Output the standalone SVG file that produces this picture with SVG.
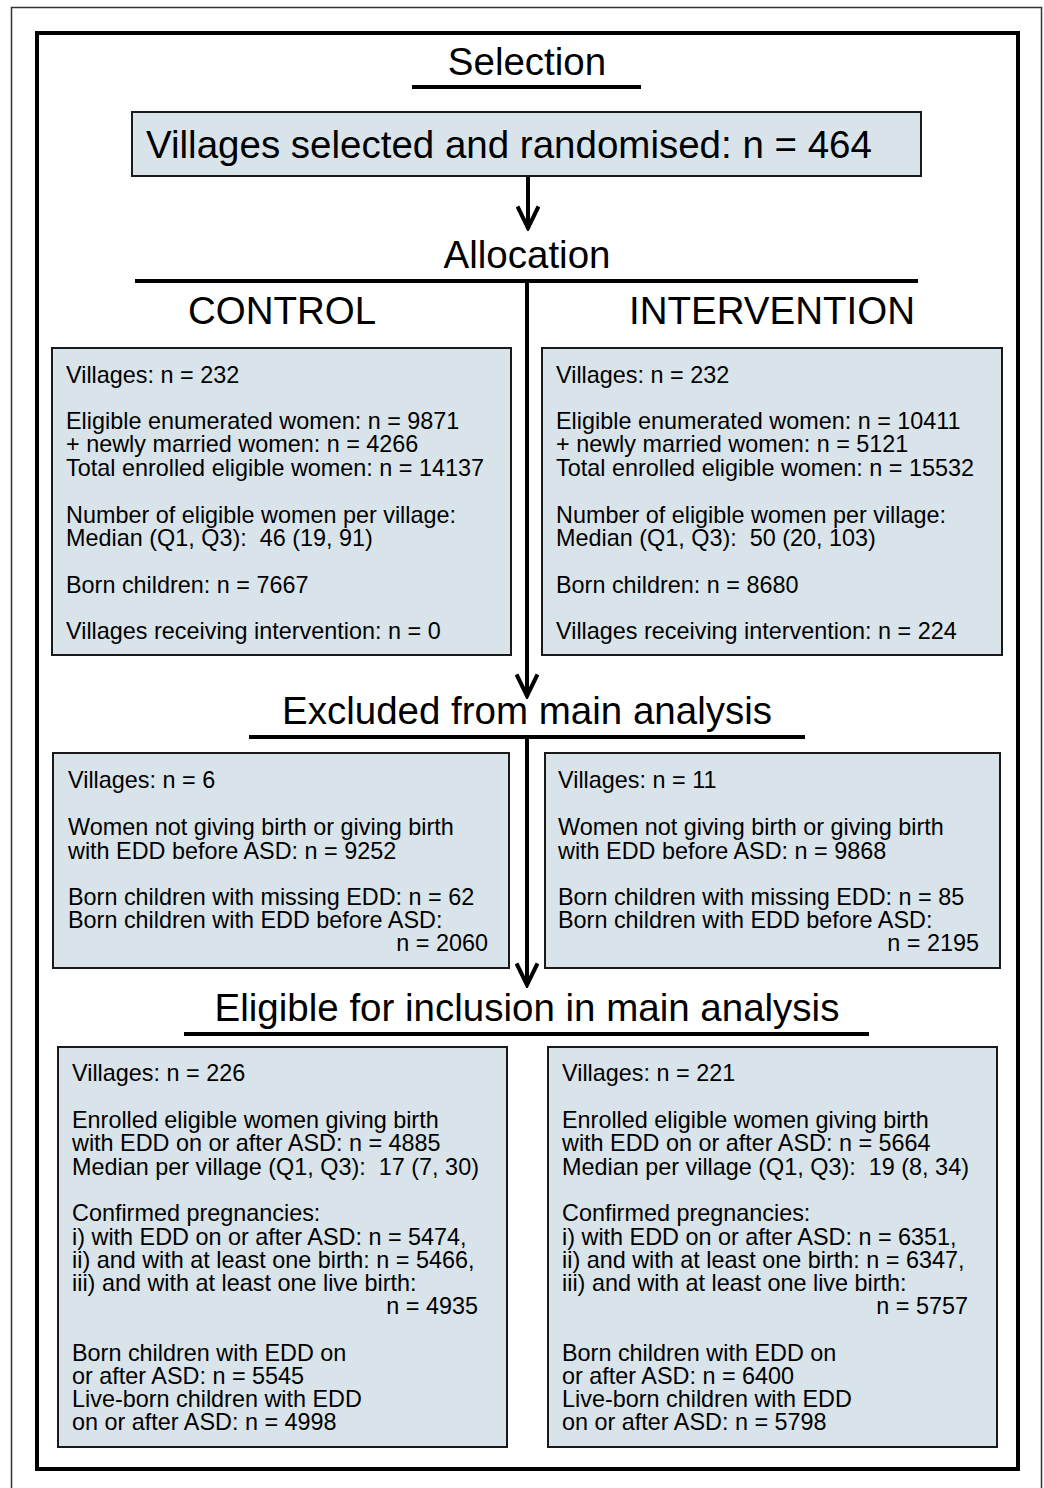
<svg xmlns="http://www.w3.org/2000/svg" width="1044" height="1488" viewBox="0 0 1044 1488">
<style>
text{font-family:"Liberation Sans",Arial,sans-serif;fill:#000}
.h{font-size:38.5px;text-anchor:middle}
.t{font-size:23.4px}
.r{text-anchor:end}
.box{fill:#d9e4ea;stroke:#1a1a1a;stroke-width:2}
.rule{stroke:#000;stroke-width:4;fill:none}
.con{stroke:#000;stroke-width:4;fill:none}
</style>
<defs>
<marker id="ah" viewBox="0 0 26 24" markerWidth="26" markerHeight="24" refX="24" refY="12" orient="auto" markerUnits="userSpaceOnUse">
<path d="M1.5 1.5 L23 12 L1.5 22.5" fill="none" stroke="#000" stroke-width="4"/>
</marker>
</defs>
<rect width="1044" height="1488" fill="#fff"/>
<path d="M11.5 1488 V7.5 H1041.5 V1488" fill="none" stroke="#333" stroke-width="1.5"/>
<rect x="37" y="33" width="981" height="1436" fill="none" stroke="#000" stroke-width="4"/>

<g id="headings">
<text class="h" x="527" y="75">Selection</text>
<line class="rule" x1="412" y1="87" x2="641" y2="87"/>
<text class="h" x="527" y="268">Allocation</text>
<line class="rule" x1="135" y1="281" x2="918" y2="281"/>
<text class="h" x="282" y="324">CONTROL</text>
<text class="h" x="772" y="324">INTERVENTION</text>
<text class="h" x="527" y="724">Excluded from main analysis</text>
<line class="rule" x1="249" y1="737" x2="805" y2="737"/>
<text class="h" x="527" y="1021">Eligible for inclusion in main analysis</text>
<line class="rule" x1="184" y1="1034" x2="869" y2="1034"/>
</g>

<g id="connectors">
<line class="con" x1="528" y1="176" x2="528" y2="229" marker-end="url(#ah)"/>
<line class="con" x1="527" y1="281" x2="527" y2="697" marker-end="url(#ah)"/>
<line class="con" x1="527" y1="737" x2="527" y2="986" marker-end="url(#ah)"/>
</g>

<g id="selected">
<rect class="box" x="132" y="112" width="789" height="64"/>
<text x="146" y="158" style="font-size:38.5px">Villages selected and randomised: n = 464</text>
</g>

<g id="control-allocated">
<rect class="box" x="52" y="348" width="459" height="307"/>
<text class="t" x="66" y="383">Villages: n = 232</text>
<text class="t" x="66" y="429">Eligible enumerated women: n = 9871</text>
<text class="t" x="66" y="452">+ newly married women: n = 4266</text>
<text class="t" x="66" y="476">Total enrolled eligible women: n = 14137</text>
<text class="t" x="66" y="523">Number of eligible women per village:</text>
<text class="t" x="66" y="546" xml:space="preserve">Median (Q1, Q3):  46 (19, 91)</text>
<text class="t" x="66" y="593">Born children: n = 7667</text>
<text class="t" x="66" y="639">Villages receiving intervention: n = 0</text>
</g>

<g id="intervention-allocated">
<rect class="box" x="542" y="348" width="460" height="307"/>
<text class="t" x="556" y="383">Villages: n = 232</text>
<text class="t" x="556" y="429">Eligible enumerated women: n = 10411</text>
<text class="t" x="556" y="452">+ newly married women: n = 5121</text>
<text class="t" x="556" y="476">Total enrolled eligible women: n = 15532</text>
<text class="t" x="556" y="523">Number of eligible women per village:</text>
<text class="t" x="556" y="546" xml:space="preserve">Median (Q1, Q3):  50 (20, 103)</text>
<text class="t" x="556" y="593">Born children: n = 8680</text>
<text class="t" x="556" y="639">Villages receiving intervention: n = 224</text>
</g>

<g id="control-excluded">
<rect class="box" x="53" y="753" width="456" height="215"/>
<text class="t" x="68" y="788">Villages: n = 6</text>
<text class="t" x="68" y="835">Women not giving birth or giving birth</text>
<text class="t" x="68" y="859">with EDD before ASD: n = 9252</text>
<text class="t" x="68" y="905">Born children with missing EDD: n = 62</text>
<text class="t" x="68" y="928">Born children with EDD before ASD:</text>
<text class="t r" x="488" y="951">n = 2060</text>
</g>

<g id="intervention-excluded">
<rect class="box" x="545" y="753" width="455" height="215"/>
<text class="t" x="558" y="788">Villages: n = 11</text>
<text class="t" x="558" y="835">Women not giving birth or giving birth</text>
<text class="t" x="558" y="859">with EDD before ASD: n = 9868</text>
<text class="t" x="558" y="905">Born children with missing EDD: n = 85</text>
<text class="t" x="558" y="928">Born children with EDD before ASD:</text>
<text class="t r" x="979" y="951">n = 2195</text>
</g>

<g id="control-eligible">
<rect class="box" x="58" y="1047" width="449" height="400"/>
<text class="t" x="72" y="1081">Villages: n = 226</text>
<text class="t" x="72" y="1128">Enrolled eligible women giving birth</text>
<text class="t" x="72" y="1151">with EDD on or after ASD: n = 4885</text>
<text class="t" x="72" y="1175" xml:space="preserve">Median per village (Q1, Q3):  17 (7, 30)</text>
<text class="t" x="72" y="1221">Confirmed pregnancies:</text>
<text class="t" x="72" y="1245">i) with EDD on or after ASD: n = 5474,</text>
<text class="t" x="72" y="1268">ii) and with at least one birth: n = 5466,</text>
<text class="t" x="72" y="1291">iii) and with at least one live birth:</text>
<text class="t r" x="478" y="1314">n = 4935</text>
<text class="t" x="72" y="1361">Born children with EDD on</text>
<text class="t" x="72" y="1384">or after ASD: n = 5545</text>
<text class="t" x="72" y="1407">Live-born children with EDD</text>
<text class="t" x="72" y="1430">on or after ASD: n = 4998</text>
</g>

<g id="intervention-eligible">
<rect class="box" x="548" y="1047" width="449" height="400"/>
<text class="t" x="562" y="1081">Villages: n = 221</text>
<text class="t" x="562" y="1128">Enrolled eligible women giving birth</text>
<text class="t" x="562" y="1151">with EDD on or after ASD: n = 5664</text>
<text class="t" x="562" y="1175" xml:space="preserve">Median per village (Q1, Q3):  19 (8, 34)</text>
<text class="t" x="562" y="1221">Confirmed pregnancies:</text>
<text class="t" x="562" y="1245">i) with EDD on or after ASD: n = 6351,</text>
<text class="t" x="562" y="1268">ii) and with at least one birth: n = 6347,</text>
<text class="t" x="562" y="1291">iii) and with at least one live birth:</text>
<text class="t r" x="968" y="1314">n = 5757</text>
<text class="t" x="562" y="1361">Born children with EDD on</text>
<text class="t" x="562" y="1384">or after ASD: n = 6400</text>
<text class="t" x="562" y="1407">Live-born children with EDD</text>
<text class="t" x="562" y="1430">on or after ASD: n = 5798</text>
</g>
</svg>
